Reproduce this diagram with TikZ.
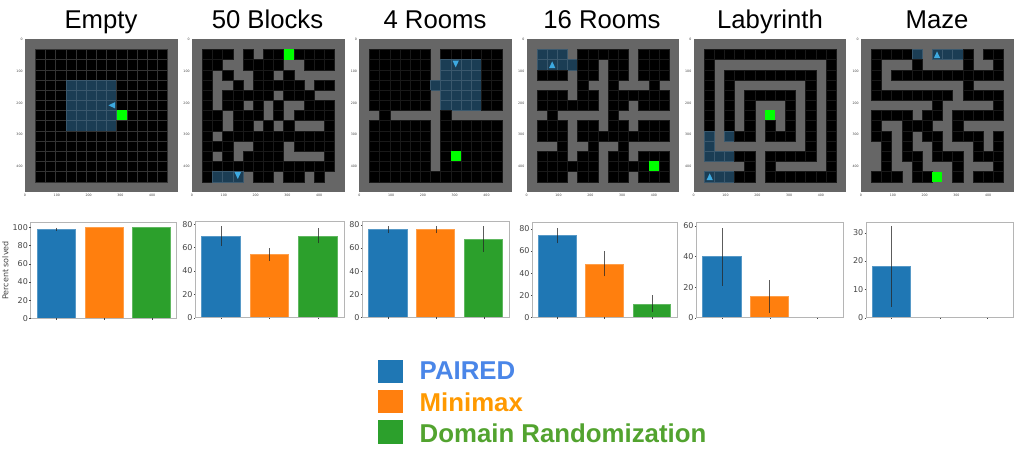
\documentclass[tikz,border=0pt]{standalone}
\usepackage{fontspec}
\setmainfont{Liberation Sans}
\newfontfamily\plotfont{DejaVu Sans}
\definecolor{wallc}{HTML}{666666}
\definecolor{viewc}{HTML}{1B3D54}
\definecolor{viewl}{HTML}{3A586D}
\definecolor{goalc}{HTML}{00FF00}
\definecolor{agentc}{HTML}{3DA9E0}
\definecolor{barblue}{HTML}{1F77B4}
\definecolor{barorange}{HTML}{FF7F0E}
\definecolor{bargreen}{HTML}{2CA02C}
\definecolor{frameg}{HTML}{B5B5B5}
\definecolor{ticktext}{HTML}{444444}
\definecolor{legblue}{HTML}{4A86E8}
\definecolor{legorange}{HTML}{FF9900}
\definecolor{leggreen}{HTML}{52A32F}
\tikzset{
  titlelabel/.style={font=\fontsize{25.7}{30}\selectfont,inner sep=0pt,anchor=base},
  legendlabel/.style={font=\bfseries\fontsize{25.8}{30}\selectfont,inner sep=0pt,anchor=base west},
  legendbox/.style={minimum width=25.5pt,minimum height=23.5pt,inner sep=0pt,anchor=north west},
  gridtick/.style={font=\plotfont\fontsize{3.2}{4}\selectfont,text=ticktext,inner sep=0pt},
  charttick/.style={font=\plotfont\fontsize{8}{9}\selectfont,text=ticktext,inner sep=0pt},
  errline/.style={draw=black!85,line width=0.9pt,opacity=.75},
  chartframe/.style={draw=frameg,line width=0.9pt},
}
\newcount\colno
\newcommand\cellsize{10.17}
\newcommand\putcell[1]{%
  \if#1o\fill[black,draw=\gridcol,line width=.35pt] (\xo+\the\colno*\cellsize,\yo+\rowno*\cellsize) rectangle ++(\cellsize,\cellsize);\fi
  \if#1B\fill[viewc,draw=viewl,line width=.35pt] (\xo+\the\colno*\cellsize,\yo+\rowno*\cellsize) rectangle ++(\cellsize,\cellsize);\fi
  \if#1G\fill[goalc] (\xo+\the\colno*\cellsize,\yo+\rowno*\cellsize) rectangle ++(\cellsize,\cellsize);\fi
}
\def\cellloop#1{\ifx#1E\else\putcell{#1}\advance\colno by 1 \expandafter\cellloop\fi}
% #1 x origin, #2 y origin, #3 grid colour, #4 rows
\newcommand\gridpanel[4]{%
  \def\xo{#1}\def\yo{#2}\def\gridcol{#3}%
  \fill[wallc] (#1,#2) rectangle ++(15*\cellsize,15*\cellsize);
  \foreach \therow [count=\rowno from 1] in {#4}{%
    \colno=1 \expandafter\cellloop\therow E%
  }%
  \foreach \t in {0,100,200,300,400}{%
    \node[gridtick,anchor=east] at (#1-2.2,{#2+\t*0.318}) {\t};
    \node[gridtick,anchor=north] at ({#1+\t*0.318},#2+15*\cellsize+2.2) {\t};
  }%
}
% agent triangles; #1 x centre, #2 y centre
\newcommand\agentup[2]{\fill[agentc] (#1,#2-3.6)--(#1+3.2,#2+3.2)--(#1-3.2,#2+3.2)--cycle;}
\newcommand\agentdown[2]{\fill[agentc] (#1,#2+3.6)--(#1+3.2,#2-3.2)--(#1-3.2,#2-3.2)--cycle;}
\newcommand\agentleft[2]{\fill[agentc] (#1-3.6,#2)--(#1+3.2,#2-3.2)--(#1+3.2,#2+3.2)--cycle;}
% bars inside a chart scope
\newcommand\vbar[4]{\fill[#4,draw=#4!75!white,line width=.5pt] (#1,0) rectangle (#2,#3);}
\newcommand\errbar[3]{\draw[errline] (#1,#2) -- (#1,#3);}
\newcommand\charttop[7]{% xL xR ytop ybot scale ticks xticks
  \draw[chartframe] (#1,#3) rectangle (#2,#4);
  \begin{scope}[shift={(0,#4)},y=#5pt]
    \foreach \t in {#6}{%
      \draw[ticktext,line width=.4pt] (#1-1.5,\t) -- (#1,\t);
      \node[charttick,anchor=east] at (#1-2.6,\t) {\t};
    }
  \end{scope}
  \foreach \t in {#7}{\draw[ticktext,line width=.4pt] (\t,#4) -- (\t,#4+1.5);}
}
\begin{document}
\begin{tikzpicture}[x=1pt,y=-1pt]
\useasboundingbox (0,0) rectangle (1024,454);
% titles
\node[titlelabel] (t1) at (101,28.5) {Empty};
\node[titlelabel] (t2) at (267.5,28.5) {50 Blocks};
\node[titlelabel] (t3) at (435,28.5) {4 Rooms};
\node[titlelabel] (t4) at (602,28.5) {16 Rooms};
\node[titlelabel] (t5) at (770,28.5) {Labyrinth};
\node[titlelabel] (t6) at (937,28.5) {Maze};
% panels
\gridpanel{25}{39.3}{black!80!white}{
ooooooooooooo,ooooooooooooo,ooooooooooooo,oooBBBBBooooo,oooBBBBBooooo,oooBBBBBooooo,oooBBBBBGoooo,oooBBBBBooooo,ooooooooooooo,ooooooooooooo,ooooooooooooo,ooooooooooooo,ooooooooooooo}
\agentleft{112}{105.3}
\gridpanel{192}{39.3}{black!90!white}{
oooxoxooGoooo,ooxxooooxxooo,oxoxxooxoxxxx,oxxoxoooooxoo,oxoooooxoooxx,oxooxoxoxxooo,ooxoooxoxoooo,ooxooxoxoxxxo,oxooooooooooo,oooxxoooxoooo,oxoxooooxxxxo,ooooooooooooo,oBBBxooxooxox}
\agentdown{237.8}{175.4}
\gridpanel{359.3}{39.3}{black!90!white}{
ooooooxoooooo,ooooooxBBBBoo,ooooooxBBBBoo,ooooooBBBBBoo,ooooooxBBBBoo,ooooooxBBBBoo,xoxxxxxoxxxxx,ooooooxoooooo,ooooooxoooooo,ooooooxoooooo,ooooooxoGoooo,ooooooxoooooo,ooooooooooooo}
\agentdown{455.7}{63.8}
\gridpanel{526.7}{39.3}{black!90!white}{
BBBxoooooxooo,BBBBooxooxooo,oooxooxooxooo,xxxxoxxoxxxox,oooxooxoooooo,ooooooxooxooo,xoxxxxxoxxxxx,oooxooxooxooo,oooxooooooooo,xxoxxoxxoxxxx,oooxooxooxooo,ooooooxooooGo,oooxooxooxooo}
\agentup{552.2}{65}
\gridpanel{693.7}{39.3}{black!90!white}{
ooooooooooooo,oxxxxxxxxxxxo,oxoooooooooxo,oxoxxxxxxxoxo,oxoxoooooxoxo,oxoxoxxxoxoxo,oxoxoxGxoxoxo,oxoxoxoxoxoxo,BxBooxoooxoxo,Bxxxxxxxxxoxo,BBBooxoooooxo,xxxxoxoxxxxxo,BBBooxooooooo}
\agentup{709.7}{177}
\gridpanel{861}{39.3}{black!90!white}{
ooooBxBBBoxoo,oxxxoxxxxoxxo,oxooooooooooo,oxxxxxxxxoxxx,ooooooooxoooo,xxxxxxoxxxxxo,ooooxooxooooo,oxxoooxxoxxxx,ooxoxooxoooxo,xoxoxxoxxxoxo,xoxooxoooxooo,xoxxoxxxoxxxo,oooxooGxoxooo}
\agentup{937}{55}
% chart 1
\fill[barblue,draw=barblue!75!white,line width=.5pt] (37.3,318.3) rectangle (75.7,229.1);
\fill[barorange,draw=barorange!75!white,line width=.5pt] (85.3,318.3) rectangle (123.3,227.3);
\fill[bargreen,draw=bargreen!75!white,line width=.5pt] (132.7,318.3) rectangle (170.7,227.3);
\draw[errline] (56.4,227.9) -- (56.4,230.7);
\charttop{30.7}{176}{222.7}{318.3}{0.91}{0,20,40,60,80,100}{56.4,104.3,151.7}
\node[charttick,rotate=90] (ylab) at (5.3,270.5) {Percent solved};
% chart 2
\begin{scope}[shift={(0,317.7)},y=1.167pt]
\vbar{201.7}{240.3}{70}{barblue}\vbar{250}{288.7}{54}{barorange}\vbar{298.7}{337.3}{70}{bargreen}
\errbar{221}{61.7}{78.6}\errbar{269.3}{48.9}{59.4}\errbar{318}{63.7}{76.6}
\end{scope}
\charttop{195.3}{344}{221.3}{317.7}{1.167}{0,20,40,60,80}{221,269.3,318}
% chart 3
\begin{scope}[shift={(0,317.3)},y=1.154pt]
\vbar{368.7}{407}{76}{barblue}\vbar{416.7}{454.7}{76}{barorange}\vbar{464.7}{502.7}{68}{bargreen}
\errbar{388}{73}{79}\errbar{436}{73}{79}\errbar{483.7}{57}{79}
\end{scope}
\charttop{362.3}{509.3}{221.7}{317.3}{1.154}{0,20,40,60,80}{388,436,483.7}
% chart 4
\begin{scope}[shift={(0,317.3)},y=1.104pt]
\vbar{538.3}{576.3}{74}{barblue}\vbar{585.7}{623.3}{48}{barorange}\vbar{633.3}{670.7}{12}{bargreen}
\errbar{557.3}{67}{81}\errbar{604.5}{37}{60}\errbar{652}{5}{20}
\end{scope}
\charttop{532.3}{677.7}{222.7}{317.3}{1.104}{0,20,40,60,80}{557.3,604.5,652}
% chart 5
\begin{scope}[shift={(0,317.7)},y=1.528pt]
\vbar{702.7}{741}{40}{barblue}\vbar{750.7}{788.7}{14}{barorange}
\errbar{722}{21}{59}\errbar{769.7}{3.3}{25}
\end{scope}
\charttop{696.3}{843.3}{222.7}{317.7}{1.528}{0,20,40,60}{722,769.7,817.3}
% chart 6
\begin{scope}[shift={(0,317.7)},y=2.833pt]
\vbar{872.3}{910.7}{18}{barblue}
\errbar{891.5}{3.9}{32.2}
\end{scope}
\charttop{866}{1013.3}{222}{317.7}{2.833}{0,10,20,30}{891.5,939.7,987.3}
% legend
\node[legendbox,fill=barblue] (k1) at (377.3,359.7) {};
\node[legendbox,fill=barorange] (k2) at (377.3,389.6) {};
\node[legendbox,fill=bargreen] (k3) at (377.3,419.8) {};
\node[legendlabel,text=legblue] (l1) at (419.5,379.5) {PAIRED};
\node[legendlabel,text=legorange] (l2) at (419.5,411.5) {Minimax};
\node[legendlabel,text=leggreen] (l3) at (419.5,442.3) {Domain Randomization};
\end{tikzpicture}
\end{document}
